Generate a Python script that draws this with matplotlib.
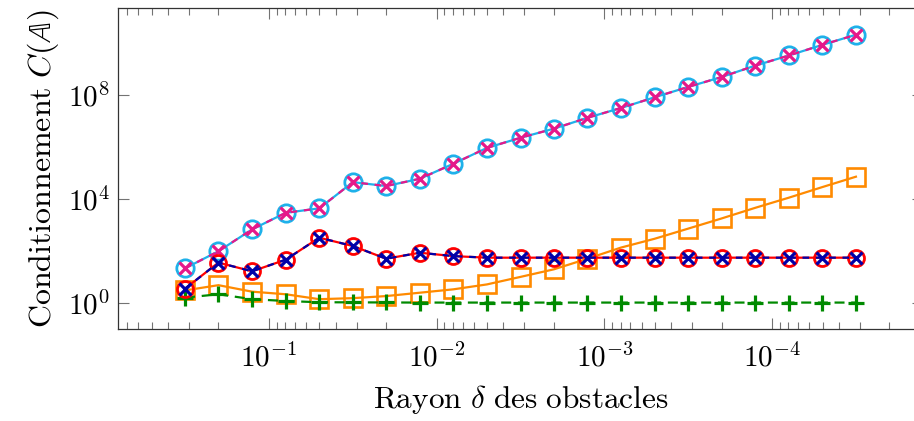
import numpy as np
import matplotlib
matplotlib.use("Agg")
import matplotlib.pyplot as plt
from matplotlib.ticker import FixedLocator, LogLocator, NullLocator, FuncFormatter

plt.rcParams["mathtext.fontset"] = "cm"
plt.rcParams["font.family"] = ["DejaVu Serif"]

# rayon des obstacles (axe x, decroissant)
delta = [3.16e-1, 2.0e-1, 1.26e-1, 7.94e-2, 5.01e-2, 3.16e-2, 2.0e-2,
         1.26e-2, 7.94e-3, 5.01e-3, 3.16e-3, 2.0e-3, 1.26e-3, 7.94e-4,
         5.01e-4, 3.16e-4, 2.0e-4, 1.26e-4, 7.94e-5, 5.01e-5, 3.16e-5]

# conditionnements
cond_cyan = [21.0, 95.0, 661.0, 2880.0, 4270.0, 4.36e4, 3.09e4, 5.89e4,
             2.24e5, 9.12e5, 2.24e6, 5.01e6, 1.32e7, 3.16e7, 8.13e7,
             2.04e8, 4.90e8, 1.35e9, 3.31e9, 8.51e9, 2.09e10]
cond_red = [3.47, 34.7, 16.0, 45.0, 316.0, 151.0, 49.0, 83.2, 61.7,
            53.7, 53.7, 53.7, 53.7, 53.7, 53.7, 53.7, 53.7, 53.7, 53.7,
            53.7, 53.7]
cond_orange = [2.95, 4.68, 2.63, 2.09, 1.35, 1.48, 1.78, 2.40, 3.24,
               5.01, 9.77, 19.1, 49.0, 132.0, 288.0, 708.0, 1740.0,
               4470.0, 1.10e4, 2.82e4, 7.08e4]
cond_green = [1.55, 2.09, 1.35, 1.15, 1.03, 1.02, 1.01, 1.0, 1.0, 1.0,
              1.0, 1.0, 1.0, 1.0, 1.0, 1.0, 1.0, 1.0, 1.0, 1.0, 1.0]

x_ticks = [1e-1, 1e-2, 1e-3, 1e-4]
y_ticks = [1e0, 1e4, 1e8]

fig = plt.figure(figsize=(9.14, 4.21), dpi=100)
# l'axe depasse a droite comme sur l'original (bord droit coupe)
ax = fig.add_axes([0.1291, 0.2178, 0.8807, 0.7632])

lw = 1.6
ax.plot(delta, cond_orange, color="#ff8a00", lw=lw, marker="s", ms=12.5,
        mfc="none", mew=1.9, zorder=3)
ax.plot(delta, cond_green, color="#008a00", lw=lw, ls=(0, (4.5, 3)),
        marker="+", ms=12, mew=2.3, zorder=4)
ax.plot(delta, cond_cyan, color="#1eb1ea", lw=lw, marker="o", ms=12.5,
        mfc="none", mew=2.0, zorder=5)
ax.plot(delta, cond_cyan, color="#e5198a", lw=lw, ls=(0, (3, 3)),
        marker="x", ms=9, mew=2.3, zorder=6)
ax.plot(delta, cond_red, color="#ff0000", lw=lw, marker="o", ms=11.5,
        mfc="none", mew=2.0, zorder=7)
ax.plot(delta, cond_red, color="#0000a8", lw=lw, ls=(0, (3, 3)),
        marker="x", ms=9, mew=2.3, zorder=8)

ax.set_xscale("log")
ax.set_yscale("log")
ax.set_xlim(10 ** -0.1, 10 ** -4.9)
ax.set_ylim(10 ** -1.03, 10 ** 11.35)

fmt = FuncFormatter(lambda v, p: r"$10^{%d}$" % int(round(np.log10(v))))
ax.xaxis.set_major_locator(FixedLocator(x_ticks))
ax.xaxis.set_minor_locator(LogLocator(base=10, subs=np.arange(2, 10)))
ax.xaxis.set_major_formatter(fmt)
ax.xaxis.set_minor_formatter(plt.NullFormatter())
ax.yaxis.set_major_locator(FixedLocator(y_ticks))
ax.yaxis.set_minor_locator(NullLocator())
ax.yaxis.set_major_formatter(fmt)

ax.tick_params(which="both", direction="in", top=True, right=True,
               color="0.45", width=0.8, labelsize=21)
ax.tick_params(which="major", length=8)
ax.tick_params(which="minor", length=4.8)
ax.tick_params(axis="x", pad=10)
ax.tick_params(axis="y", pad=6)
for s in ax.spines.values():
    s.set_color("0.2")
    s.set_linewidth(0.9)

ax.set_xlabel(r"$\mathrm{Rayon}\ \delta\ \mathrm{des\ obstacles}$",
              fontsize=22.5, labelpad=8)
ax.set_ylabel(r"$\mathrm{Conditionnement}\ C(\mathbb{A})$",
              fontsize=23, labelpad=5)

fig.savefig("out.png", dpi=100)
